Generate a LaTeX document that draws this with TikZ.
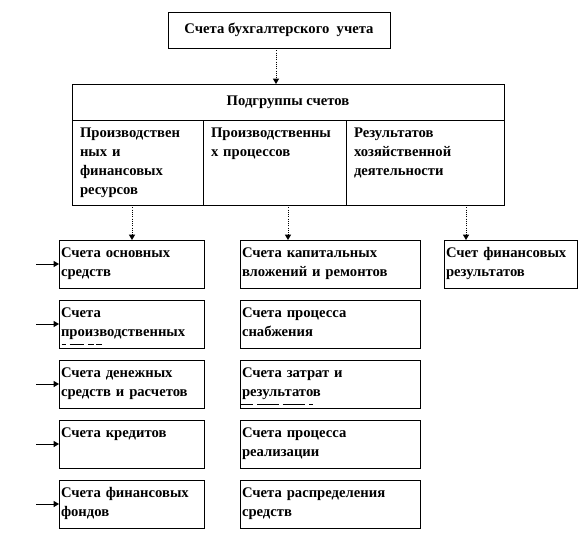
\documentclass[tikz,border=0pt]{standalone}
\usepackage{fontspec}
\setmainfont{Liberation Serif}
\usepackage{tikz}
\usetikzlibrary{arrows.meta,positioning,calc}

\begin{document}
\begin{tikzpicture}[x=0.75pt, y=-0.75pt,
    font=\fontsize{11}{14.25}\selectfont\bfseries,
    every node/.style={line width=0.7pt, outer sep=0pt},
    title/.style={rectangle, draw, minimum width=166.5pt, minimum height=27pt,
        anchor=north west, inner sep=0pt},
    head/.style={rectangle, draw, minimum width=324pt, minimum height=27pt,
        anchor=north west, inner sep=0pt},
    col/.style={rectangle, draw, anchor=north west, align=left,
        inner xsep=6pt, inner ysep=0pt, text width=#1,
        text height=12.75pt, text depth=51pt},
    acc/.style={rectangle, draw, anchor=north west, align=left,
        inner xsep=1.5pt, inner ysep=0pt, text width=#1,
        text height=12.75pt, text depth=23.25pt},
    down/.style={-{Triangle[length=4pt, width=4.5pt]}, line width=0.7pt, densely dotted},
    into/.style={-{Triangle[length=4pt, width=4.5pt]}, line width=0.7pt},
    cut/.style={line width=0.6pt}
]
    \useasboundingbox (0,0) rectangle (588,540);

    % Top
    \node[title] (acct) at (168,12) {Счета бухгалтерского\ \ учета};

    % Subgroups table
    \node[head] (grp) at (72,84) {Подгруппы счетов};
    \node[col=86.25pt] (c1) at (72,120) {Производствен\\ных и\\финансовых\\ресурсов};
    \node[col=95.25pt, right=0pt of c1] (c2) {Производственны\\х процессов};
    \node[col=106.5pt, right=0pt of c2] (c3) {Результатов\\хозяйственной\\деятельности};

    % Left column
    \node[acc=105.75pt] (l1) at (59,240) {Счета основных\\средств};
    \node[acc=105.75pt, below=9pt of l1] (l2) {Счета\\производственных};
    \node[acc=105.75pt, below=9pt of l2] (l3) {Счета денежных\\средств и расчетов};
    \node[acc=105.75pt, below=9pt of l3] (l4) {Счета кредитов};
    \node[acc=105.75pt, below=9pt of l4] (l5) {Счета финансовых\\фондов};

    % Middle column
    \node[acc=132pt] (m1) at (240,240) {Счета капитальных\\вложений и ремонтов};
    \node[acc=132pt, below=9pt of m1] (m2) {Счета процесса\\снабжения};
    \node[acc=132pt, below=9pt of m2] (m3) {Счета затрат и\\результатов};
    \node[acc=132pt, below=9pt of m3] (m4) {Счета процесса\\реализации};
    \node[acc=132pt, below=9pt of m4] (m5) {Счета распределения\\средств};

    % Right column
    \node[acc=96.75pt] (r1) at (444,240) {Счет финансовых\\результатов};

    % Cut-off third lines
    \draw[cut, dash pattern=on 3pt off 3pt on 11pt off 3pt on 4pt off 2pt on 4pt off 2pt on 6pt]
        ([shift={(2pt,2.5pt)}]l2.south west) -- ++(31pt,0);
    \draw[cut, dash pattern=on 9pt off 3pt on 16pt off 3pt on 17pt off 3pt on 3pt]
        ([shift={(1pt,3pt)}]m3.south west) -- ++(54pt,0);

    % Vertical arrows
    \draw[down] (acct.south -| 276,0) -- (grp.north -| 276,0);
    \draw[down] ([xshift=54.75pt]l1.north west |- c1.south) -- ([xshift=54.75pt]l1.north west);
    \draw[down] ([xshift=36pt]m1.north west |- c2.south) -- ([xshift=36pt]m1.north west);
    \draw[down] ([xshift=16.5pt]r1.north west |- c3.south) -- ([xshift=16.5pt]r1.north west);

    % Incoming arrows on the left
    \foreach \n in {l1,l2,l3,l4,l5} {
        \coordinate (in\n) at ([xshift=-17.25pt]\n.west);
        \draw[into] (in\n) -- (\n.west);
    }
\end{tikzpicture}
\end{document}
